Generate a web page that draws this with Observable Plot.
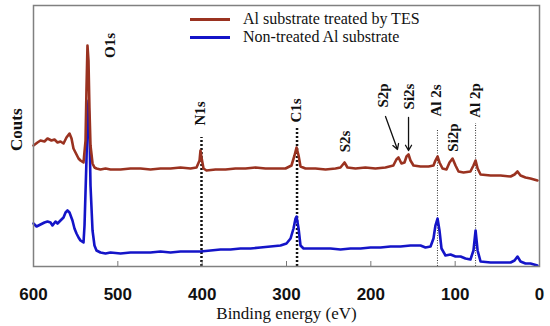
<!DOCTYPE html>
<html>
<head>
<meta charset="utf-8">
<script src="https://cdn.jsdelivr.net/npm/d3@7"></script>
<script src="https://cdn.jsdelivr.net/npm/@observablehq/plot@0.6"></script>
<style>
  html, body { margin: 0; padding: 0; background: #fff; }
  #wrap { position: relative; width: 550px; height: 326px; }
  #legend { position: absolute; left: 190px; top: 10px; font-family: "Liberation Serif", "Times New Roman", serif; font-size: 16px; color: #111; }
  #legend .row { display: flex; align-items: center; height: 18px; }
  #legend .sw { width: 40px; height: 3px; margin-right: 13px; }
  svg text { font-family: "Liberation Serif", "Times New Roman", serif !important; }
  svg .peaklbl text { font-weight: bold; font-size: 15px; }
  svg .ylbl text { font-weight: bold; font-size: 17px; }
  svg .xlbl text { font-size: 17px; }
  svg [aria-label="x-axis tick label"] text { font-family: "Liberation Sans", Arial, sans-serif !important; font-weight: bold; font-size: 17px; fill: #111; }
</style>
</head>
<body>
<div id="wrap"><div id="legend"></div></div>
<script>
// ---- Data (counts in arbitrary units) ----
const seriesNames = ["Al substrate treated by TES", "Non-treated Al substrate"];
const seriesColors = ["#9a3220", "#1414c8"];

const treatedE = [600,595.3,591.7,587,583.4,578.7,575.1,571.5,568,564.4,560.9,557.3,554.9,552.6,549,546.6,544.3,540.7,538.3,537.2,536,534.8,533.6,532.4,530,527.7,525.3,520.6,514.6,508.7,496.8,485,473.1,461.3,449.4,437.5,425.7,413.8,406.7,403.1,402,400.8,398.4,394.9,384.2,372.3,360.5,348.6,336.8,324.9,313,301.2,294.1,290.5,288.1,285.7,283.4,277.5,265.6,253.7,241.9,236,231.2,227.7,218.2,206.5,194.6,182.7,173.3,169.7,167.2,163.7,160.1,157.7,155.3,153,149.4,141.1,131.6,125.7,123.4,120.9,118.6,115,110.3,106.7,103.1,99.6,96,90.1,81.9,78.3,75.8,73.4,69.9,58,46.2,34.3,29.6,26.1,22.5,16.6,10.7,2.4];
const treatedC = [121,124,126,125,128,126,127,124,125,123,129,133,128,118,112,108,106,104,126,176,221,206,156,121,103,99,98,97,98,97,97,98,98,97,98,98,99,98,99,106,116,109,98,96,97,97,98,98,99,98,98,98,101,111,119,111,100,98,98,97,98,99,104,99,98,99,98,99,101,107,109,103,104,110,112,106,101,100,100,101,106,110,104,98,97,104,108,101,95,94,95,101,106,98,92,91,91,90,92,95,91,89,88,86];

const untreatedE = [600,596.4,591.7,587,583.4,579.8,577.5,573.9,571.5,568,564.4,562,559.7,557.3,553.8,551.4,549,546.6,544.3,540.7,539.5,537.2,536,534.8,533.6,532.4,530,527.7,525.3,520.6,514.6,508.7,496.8,485,473.1,461.3,449.4,437.5,425.7,413.8,402,390.1,378.3,366.4,354.6,342.7,330.9,319,307.1,300,295.2,291.7,289.3,288.1,285.7,283.4,279.8,271.5,259.7,247.8,236,224.1,212.2,200.4,188.5,176.7,164.8,153,141.1,135.2,129.2,125.7,123.4,120.9,118.6,116.2,111.5,105.5,99.6,93.6,87.8,81.9,78.3,75.8,73.4,69.9,58,46.2,34.3,29.6,26.1,22.5,16.6,10.7,2.4];
const untreatedC = [43,40,42,44,45,44,41,45,43,46,49,54,56,54,46,38,33,29,26,24,41,106,146,166,136,81,36,21,16,14,13,14,13,14,14,14,15,14,15,15,15,16,17,17,18,18,19,20,21,23,28,38,48,50,38,21,18,18,18,18,17,18,18,19,19,20,20,21,21,19,20,28,41,48,36,18,11,12,10,10,8,7,16,36,16,5,4,4,4,6,10,5,3,3,1];

// peak annotations
const peakNames  = ["O1s","N1s","C1s","S2s","S2p","Si2s","Al 2s","Si2p","Al 2p"];
const peakLabelE = [508.7,402,289,230,185,155,123,102,76];
const peakLabelC = [221,153,156,125,171,170,166,129,166];

// dotted guide lines
const guideE    = [400.8, 287.5, 121, 75.8];
const guideTop  = [129, 138, 136, 143];
const guideBold = [true, true, false, false];

// arrows (S2p, Si2s)
const arrowE1 = [182.6, 155.3], arrowC1 = [150, 149];
const arrowE2 = [168.4, 155.3], arrowC2 = [117, 116];

const xTicks = [600, 500, 400, 300, 200, 100, 0];
const innerTicks = [500, 400, 300, 200, 100];
const xLabel = "Binding energy (eV)";
const yLabel = "Couts";

// ---- Tables ----
const lines = [
  ...untreatedE.map((e, i) => ({E: e, C: untreatedC[i], s: seriesNames[1]})),
  ...treatedE.map((e, i) => ({E: e, C: treatedC[i], s: seriesNames[0]}))
];
const peaks = peakNames.map((n, i) => ({name: n, E: peakLabelE[i], C: peakLabelC[i]}));
const guides = guideE.map((e, i) => ({E: e, top: guideTop[i], bold: guideBold[i]}));
const arrows = arrowE1.map((e, i) => ({x1: e, y1: arrowC1[i], x2: arrowE2[i], y2: arrowC2[i]}));

const chart = Plot.plot({
  width: 550,
  height: 326,
  marginTop: 5,
  marginBottom: 60,
  marginLeft: 33,
  marginRight: 11,
  x: {domain: [600, 0]},
  y: {domain: [0, 261], axis: null},
  color: {domain: seriesNames, range: seriesColors},
  style: {background: "#fff", overflow: "visible"},
  marks: [
    Plot.ruleX(guides.filter(d => d.bold), {x: "E", y1: 0, y2: "top", stroke: "#111", strokeWidth: 2.5, strokeDasharray: "2,2"}),
    Plot.ruleX(guides.filter(d => !d.bold), {x: "E", y1: 0, y2: "top", stroke: "#333", strokeWidth: 1, strokeDasharray: "1,1.5"}),
    Plot.line(lines, {x: "E", y: "C", z: "s", stroke: "s", strokeWidth: 2.6, curve: "linear"}),
    Plot.text(peaks, {x: "E", y: "C", text: "name", rotate: -90, className: "peaklbl", fontWeight: "bold", fontSize: 15, fill: "#111", textAnchor: "middle", lineAnchor: "middle"}),
    Plot.arrow(arrows, {x1: "x1", y1: "y1", x2: "x2", y2: "y2", stroke: "#111", strokeWidth: 1.3, headLength: 7}),
    Plot.ruleX(innerTicks, {y1: 0, y2: 5, stroke: "#777", strokeWidth: 1}),
    Plot.frame({stroke: "#808080", strokeWidth: 1.5}),
    Plot.axisX({ticks: xTicks, tickSize: 0, tickPadding: 21, label: null, tickFormat: d => String(d)}),
    Plot.text([xLabel], {frameAnchor: "bottom", dy: 47, text: d => d, className: "xlbl", fontSize: 17, fill: "#111", lineAnchor: "middle"}),
    Plot.text([yLabel], {frameAnchor: "left", dx: -17, dy: 15, text: d => d, rotate: -90, className: "ylbl", fontWeight: "bold", fontSize: 17, fill: "#111", lineAnchor: "middle"})
  ]
});

const wrap = document.getElementById("wrap");
wrap.insertBefore(chart, wrap.firstChild);

const legend = document.getElementById("legend");
seriesNames.forEach((n, i) => {
  const row = document.createElement("div");
  row.className = "row";
  const sw = document.createElement("div");
  sw.className = "sw";
  sw.style.background = seriesColors[i];
  const t = document.createElement("span");
  t.textContent = n;
  row.appendChild(sw);
  row.appendChild(t);
  legend.appendChild(row);
});
</script>
</body>
</html>
